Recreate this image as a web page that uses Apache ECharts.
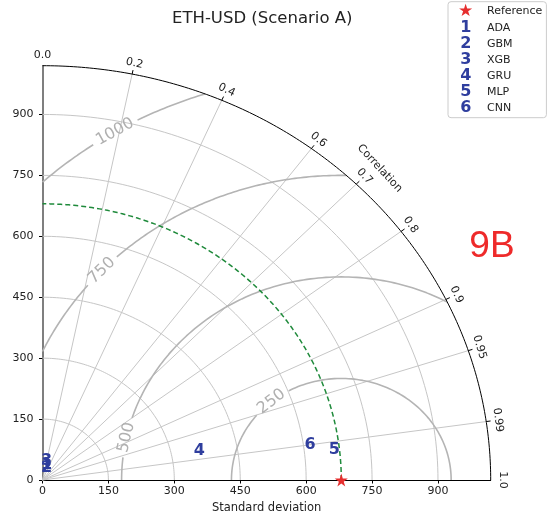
<!DOCTYPE html>
<html><head><meta charset="utf-8">
<script src="https://cdn.jsdelivr.net/npm/echarts@6/dist/echarts.min.js"></script>
<style>html,body{margin:0;padding:0;background:#fff}#c{width:550px;height:521px}</style>
</head><body><div id="c"></div>
<script>
// ---------- data ----------
const chartTitle = 'ETH-USD (Scenario A)';
const xAxisName = 'Standard deviation';
const corrAxisName = 'Correlation';
const panelTag = '9B';
const refName = 'Reference';
const refStd = 680;
const maxStd = 1020;
const stdTickValues = [0, 150, 300, 450, 600, 750, 900];
const stdCircleValues = [150, 300, 450, 600, 750, 900];
const corrTickValues = [0.0, 0.2, 0.4, 0.6, 0.7, 0.8, 0.9, 0.95, 0.99, 1.0];
const corrTickLabels = ['0.0', '0.2', '0.4', '0.6', '0.7', '0.8', '0.9', '0.95', '0.99', '1.0'];
const corrLineValues = [0.2, 0.4, 0.6, 0.7, 0.8, 0.9, 0.95, 0.99];
const rmsLevels = [250, 500, 750, 1000];
const rmsLabelAngles = [129.5, 167.9, 136.6, 121.0];
const modelNames = ['ADA', 'GBM', 'XGB', 'GRU', 'MLP', 'CNN'];
const modelMarkers = ['1', '2', '3', '4', '5', '6'];
const modelStd = [39, 31, 48, 364, 668, 615];
const modelCorr = [0.23, 0.30, 0.19, 0.981, 0.994, 0.990];

// ---------- styling / layout ----------
const FONT = 'DejaVu Sans';
const TXT = '#222222';
const BLUE = '#2f3e9e';
const RED = '#e62e2e';
const GRID = {left: 42.5, top: 65.7, width: 448.2, height: 414.3};
const sx = GRID.width / maxStd, sy = GRID.height / maxStd;
const RAD = Math.PI / 180;
const rmsFont = 16;
const STAR = 'path://M50,0 L61,35 L98,35 L68,57 L79,91 L50,70 L21,91 L32,57 L2,35 L39,35 Z';

function arc(cx, r, a0, a1, step) {
  const pts = [];
  const n = Math.max(2, Math.ceil(Math.abs(a1 - a0) / step));
  for (let i = 0; i <= n; i++) {
    const a = (a0 + (a1 - a0) * i / n) * RAD;
    pts.push([cx + r * Math.cos(a), r * Math.sin(a)]);
  }
  return pts;
}
function lineSeries(data, color, width, type, z) {
  return {type: 'line', data, symbol: 'none', silent: true, clip: false, animation: false, z: z || 2,
    lineStyle: {color, width, type: type || 'solid'}, emphasis: {disabled: true}};
}
function labelSeries(items, style, z) {
  return {type: 'scatter', data: items, symbolSize: 1, itemStyle: {color: 'rgba(0,0,0,0)', opacity: 1},
    clip: false, silent: true, animation: false, z: z || 5, emphasis: {disabled: true},
    label: Object.assign({show: true, position: 'inside', formatter: '{b}', align: 'center',
      verticalAlign: 'middle', fontFamily: FONT, opacity: 1, textBorderWidth: 0}, style)};
}
function pixAngle(dx, dy) { return Math.atan2(dy * sy, dx * sx) / RAD; }
function upright(a) { while (a > 90) a -= 180; while (a <= -90) a += 180; return a; }

const series = [];
// std circles
stdCircleValues.forEach(r => series.push(lineSeries(arc(0, r, 0, 90, 1), '#c6c6c6', 1, 'solid', 1)));
// correlation rays
corrLineValues.forEach(c => series.push(lineSeries(
  [[0, 0], [maxStd * c, maxStd * Math.sqrt(1 - c * c)]], '#c6c6c6', 1, 'solid', 1)));
// RMS contours with label gaps
const rmsLabelItems = [];
rmsLevels.forEach((L, i) => {
  const c0 = (maxStd * maxStd - refStd * refStd - L * L) / (2 * refStd * L);
  const phiMin = c0 >= 1 ? 0 : Math.acos(Math.max(-1, c0)) / RAD;
  const phiMax = L > refStd ? Math.acos(-refStd / L) / RAD : 180;
  const phiL = rmsLabelAngles[i];
  const txt = String(L);
  const halfPx = txt.length * 0.636 * rmsFont / 2 + 5;
  const pxPerRad = L * Math.hypot(sx * Math.sin(phiL * RAD), sy * Math.cos(phiL * RAD));
  const g = halfPx / pxPerRad / RAD;
  if (phiL - g > phiMin) series.push(lineSeries(arc(refStd, L, phiMin, phiL - g, 0.5), '#b4b4b4', 1.6, 'solid', 2));
  if (phiL + g < phiMax) series.push(lineSeries(arc(refStd, L, phiL + g, phiMax, 0.5), '#b4b4b4', 1.6, 'solid', 2));
  const a = phiL * RAD;
  rmsLabelItems.push({name: txt, value: [refStd + L * Math.cos(a), L * Math.sin(a)],
    label: {rotate: upright(pixAngle(-Math.sin(a), Math.cos(a)))}});
});
series.push(labelSeries(rmsLabelItems, {fontSize: rmsFont, color: '#b0b0b0'}, 3));
// outer arc
series.push(lineSeries(arc(0, maxStd, 0, 90, 0.5), '#000', 1, 'solid', 4));
// correlation ticks on the arc
corrTickValues.filter(c => c > 0 && c < 1).forEach(c => {
  const s = Math.sqrt(1 - c * c);
  series.push(lineSeries([[maxStd * c, maxStd * s], [(maxStd + 10) * c, (maxStd + 10) * s]], '#000', 1, 'solid', 4));
});
// correlation labels
const corrLabelItems = corrTickValues.map((c, i) => {
  const t = Math.acos(c);
  const r = maxStd + 27;
  return {name: corrTickLabels[i], value: [r * Math.cos(t), r * Math.sin(t)],
    label: {rotate: pixAngle(Math.cos(t), Math.sin(t)) - 90}};
});
series.push(labelSeries(corrLabelItems, {fontSize: 11, color: TXT}, 5));
{
  const t = 45 * RAD, r = 1085;
  series.push(labelSeries([{name: corrAxisName, value: [r * Math.cos(t), r * Math.sin(t)],
    label: {rotate: pixAngle(Math.cos(t), Math.sin(t)) - 90}}], {fontSize: 11, color: TXT}, 5));
}
// reference std arc
series.push(lineSeries(arc(0, refStd, 0, 90, 0.5), '#1f8a3b', 1.5, [5, 3], 6));
// reference point
series.push({type: 'scatter', name: refName, data: [[refStd, 0]], symbol: STAR, symbolSize: 13,
  itemStyle: {color: RED, opacity: 1}, clip: false, silent: true, animation: false, z: 8, emphasis: {disabled: true}});
// models
modelNames.forEach((n, i) => {
  const t = Math.acos(modelCorr[i]);
  series.push({type: 'scatter', name: n, data: [{name: modelMarkers[i],
      value: [modelStd[i] * Math.cos(t), modelStd[i] * Math.sin(t)]}],
    symbolSize: 1, itemStyle: {color: 'rgba(0,0,0,0)', opacity: 1}, clip: false, silent: true, animation: false, z: 9,
    emphasis: {disabled: true},
    label: {show: true, position: 'inside', formatter: '{b}', fontSize: 16, fontWeight: 'bold',
      color: BLUE, fontFamily: FONT, opacity: 1, textBorderWidth: 0}});
});

const legendMarks = {};
legendMarks[refName] = '{s|★}';
modelNames.forEach((n, i) => legendMarks[n] = '{m|' + modelMarkers[i] + '}');

const chart = echarts.init(document.getElementById('c'), null, {renderer: 'canvas'});
chart.setOption({
  animation: false,
  backgroundColor: '#fff',
  textStyle: {fontFamily: FONT},
  title: {text: chartTitle, left: 167, top: 5,
    textStyle: {fontSize: 16.5, fontWeight: 'normal', color: TXT, fontFamily: FONT}},
  grid: {left: GRID.left, top: GRID.top, width: GRID.width, height: GRID.height, containLabel: false},
  legend: {
    data: [refName].concat(modelNames), orient: 'vertical', left: 448, top: 1.7,
    itemWidth: 0, itemHeight: 0, itemGap: 0, selectedMode: false,
    padding: [1, 4, 2, 0], backgroundColor: '#fff', borderColor: '#cccccc', borderWidth: 1, borderRadius: 3,
    formatter: name => legendMarks[name] + '{t|' + name + '}',
    textStyle: {
      fontFamily: FONT, fontSize: 11, color: TXT,
      rich: {
        s: {width: 25.4, align: 'center', color: RED, fontSize: 17, lineHeight: 16.3, fontFamily: FONT},
        m: {width: 25.4, align: 'center', color: BLUE, fontSize: 16, fontWeight: 'bold', lineHeight: 16.3, fontFamily: FONT},
        t: {fontSize: 11, color: TXT, padding: [0, 0, 0, 8.6], lineHeight: 16.3, fontFamily: FONT}
      }
    }
  },
  xAxis: {
    type: 'value', min: 0, max: maxStd, interval: 150,
    name: xAxisName, nameLocation: 'middle', nameGap: 22,
    nameTextStyle: {fontSize: 11.5, color: TXT, fontFamily: FONT},
    axisLine: {show: true, lineStyle: {color: '#000', width: 1}},
    axisTick: {show: true, customValues: stdTickValues, length: 3.5, lineStyle: {color: '#000'}},
    axisLabel: {customValues: stdTickValues, fontSize: 11, color: TXT, margin: 6, fontFamily: FONT},
    splitLine: {show: false}
  },
  yAxis: {
    type: 'value', min: 0, max: maxStd, interval: 150,
    axisLine: {show: true, lineStyle: {color: '#555', width: 1.5}},
    axisTick: {show: true, customValues: stdTickValues, length: 3.5, lineStyle: {color: '#000'}},
    axisLabel: {customValues: stdTickValues, fontSize: 11, color: TXT, margin: 9, fontFamily: FONT},
    splitLine: {show: false}
  },
  graphic: [{type: 'text', x: 492, y: 247, z: 100,
    style: {text: panelTag, fill: '#ee2a2a', fontSize: 37, fontFamily: 'Liberation Sans',
      align: 'center', verticalAlign: 'middle'}}],
  series
});
</script></body></html>
